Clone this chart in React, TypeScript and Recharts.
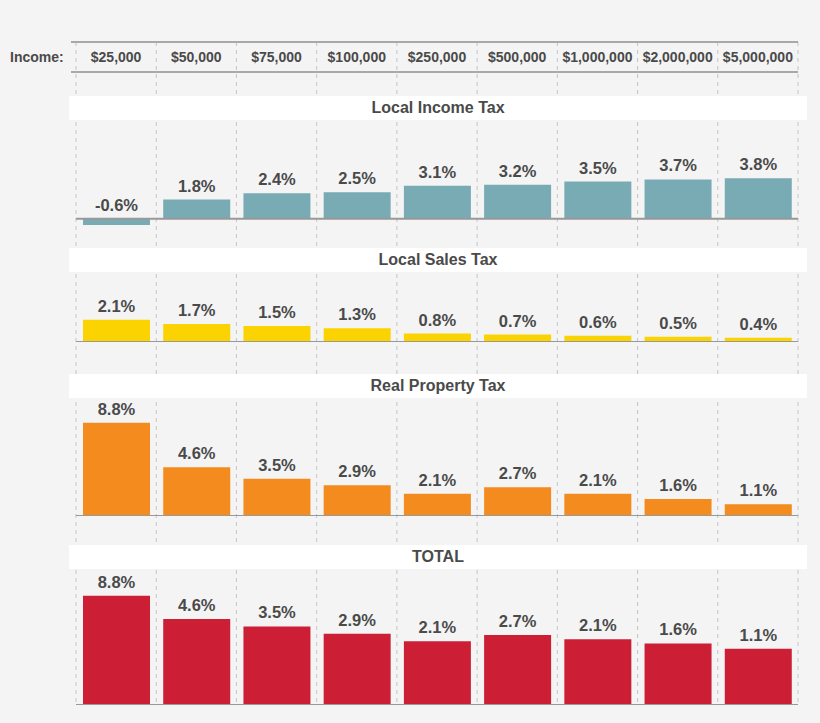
import React from "react";
import { BarChart, Bar, XAxis, YAxis, CartesianGrid, ReferenceLine, LabelList } from "recharts";

const incomes = ["$25,000", "$50,000", "$75,000", "$100,000", "$250,000", "$500,000", "$1,000,000", "$2,000,000", "$5,000,000"];
const localIncomeTax = [-0.6, 1.8, 2.4, 2.5, 3.1, 3.2, 3.5, 3.7, 3.8];
const localSalesTax = [2.1, 1.7, 1.5, 1.3, 0.8, 0.7, 0.6, 0.5, 0.4];
const realPropertyTax = [8.8, 4.6, 3.5, 2.9, 2.1, 2.7, 2.1, 1.6, 1.1];
// bar heights of the TOTAL panel (labels printed on it are the ones below)
const totalTax = [10.3, 8.1, 7.4, 6.7, 6.0, 6.6, 6.2, 5.8, 5.3];
const totalLabels = ["8.8%", "4.6%", "3.5%", "2.9%", "2.1%", "2.7%", "2.1%", "1.6%", "1.1%"];

const fmt = (v: number) => `${v.toFixed(1)}%`;

const rows = incomes.map((income, i) => ({
  income,
  localIncome: localIncomeTax[i],
  localIncomeLabel: fmt(localIncomeTax[i]),
  localSales: localSalesTax[i],
  localSalesLabel: fmt(localSalesTax[i]),
  property: realPropertyTax[i],
  propertyLabel: fmt(realPropertyTax[i]),
  total: totalTax[i],
  totalLabel: totalLabels[i],
}));

const MARGIN = { top: 0, right: 22, bottom: 0, left: 76 };
const TEXT = "#4a4a4a";

const renderValueLabel = (props: any) => {
  const { x, y, width, height, value } = props;
  const top = Math.min(Number(y), Number(y) + Number(height));
  return (
    <text
      x={Number(x) + Number(width) / 2}
      y={top - 8}
      textAnchor="middle"
      fill={TEXT}
      fontSize={16.5}
      fontWeight="bold"
    >
      {value}
    </text>
  );
};

type PanelProps = {
  top: number;
  height: number;
  domain: [number, number];
  valueKey: string;
  labelKey: string;
  color: string;
  header?: boolean;
};

const Panel = ({ top, height, domain, valueKey, labelKey, color, header }: PanelProps) => (
  <div style={{ position: "absolute", left: 0, top }}>
    <BarChart width={820} height={height} data={rows} margin={MARGIN} barSize={67}>
      <XAxis
        dataKey="income"
        orientation="top"
        hide={!header}
        height={30}
        axisLine={false}
        tickLine={false}
        tickSize={0}
        tickMargin={10}
        interval={0}
        tick={{ fill: TEXT, fontSize: 14, fontWeight: "bold" }}
      />
      <YAxis hide domain={domain} allowDataOverflow />
      <ReferenceLine y={0} stroke="#999" strokeWidth={2} />
      <Bar dataKey={valueKey} fill={color} isAnimationActive={false}>
        <LabelList dataKey={labelKey} content={renderValueLabel} />
      </Bar>
    </BarChart>
  </div>
);

const TitleBand = ({ top, title }: { top: number; title: string }) => (
  <div
    style={{
      position: "absolute",
      left: 69,
      top,
      width: 738,
      height: 24,
      background: "#fff",
      color: TEXT,
      fontSize: 16,
      fontWeight: "bold",
      lineHeight: "24px",
      textAlign: "center",
    }}
  >
    {title}
  </div>
);

const App = () => {
  return (
    <div
      style={{
        position: "absolute",
        left: 0,
        top: 0,
        width: 820,
        height: 723,
        background: "#f4f4f4",
        fontFamily: "'Liberation Sans', Arial, sans-serif",
        overflow: "hidden",
      }}
    >
      {/* dashed column separators */}
      <div style={{ position: "absolute", left: 0, top: 42 }}>
        <BarChart width={820} height={662} data={rows} margin={MARGIN}>
          <XAxis dataKey="income" hide />
          <YAxis hide domain={[0, 1]} />
          <CartesianGrid
            horizontal={false}
            stroke="#c4c4c4"
            strokeDasharray="4 4"
            verticalCoordinatesGenerator={({ offset }: any) =>
              incomes.concat([""]).map((_, i) => offset.left + (i * offset.width) / incomes.length)
            }
          />
        </BarChart>
      </div>

      <Panel top={42} height={198} domain={[-2, 13.8]} valueKey="localIncome" labelKey="localIncomeLabel" color="#79abb5" header />
      <Panel top={240} height={102} domain={[0, 9.6]} valueKey="localSales" labelKey="localSalesLabel" color="#fbd300" />
      <Panel top={342} height={174} domain={[0, 16.4]} valueKey="property" labelKey="propertyLabel" color="#f38b1f" />
      <Panel top={516} height={189} domain={[0, 17.8]} valueKey="total" labelKey="totalLabel" color="#cc1f36" />

      {/* header rules */}
      <div style={{ position: "absolute", left: 71, top: 41, width: 727, borderTop: "2px solid #a8a8a8" }} />
      <div style={{ position: "absolute", left: 71, top: 71, width: 727, borderTop: "2px solid #a8a8a8" }} />
      <div
        style={{
          position: "absolute",
          left: 10,
          top: 48,
          color: TEXT,
          fontSize: 14,
          fontWeight: "bold",
          lineHeight: "18px",
        }}
      >
        Income:
      </div>

      <TitleBand top={96} title="Local Income Tax" />
      <TitleBand top={248} title="Local Sales Tax" />
      <TitleBand top={374} title="Real Property Tax" />
      <TitleBand top={545} title="TOTAL" />
    </div>
  );
};

export default App;
